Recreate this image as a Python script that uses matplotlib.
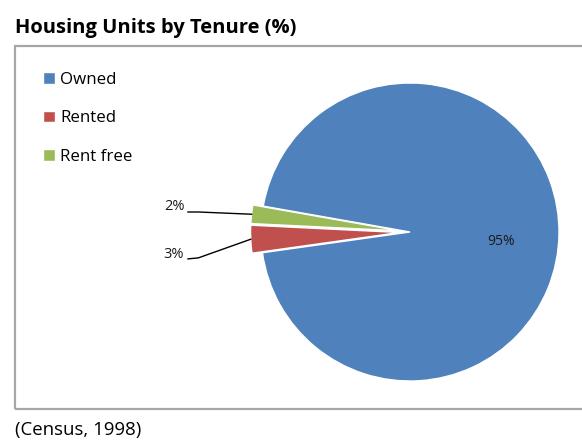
import matplotlib
matplotlib.use("Agg")
import numpy as np
import matplotlib.pyplot as plt
from matplotlib.patches import Rectangle

categories = ["Owned", "Rented", "Rent free"]
shares = [95, 3, 2]
colors = ["#4F81BD", "#C0504D", "#9BBB59"]
explode = [0, 0.07, 0.07]

plt.rcParams['font.family'] = ['Open Sans', 'DejaVu Sans']

W, H = 582, 442
fig = plt.figure(figsize=(W / 100, H / 100), dpi=100)

# pie centre at (410, 232) px, radius 149 px
cx, cy, r = 410, 232, 149
ax = fig.add_axes([0, 0, 1, 1])
wedges, _ = ax.pie(
    shares,
    colors=colors,
    explode=explode,
    startangle=170,
    counterclock=False,
    wedgeprops=dict(edgecolor="white", linewidth=1),
)
ax.set_xlim(-cx / r, (W - cx) / r)
ax.set_ylim(-(H - cy) / r, cy / r)
ax.set_aspect("auto")
ax.axis("off")

# percentage labels
for i, w in enumerate(wedges):
    mid = np.deg2rad((w.theta1 + w.theta2) / 2)
    x0, y0 = w.center
    lab = f"{shares[i]}%"
    if i == 0:
        ax.text(0.61 * np.cos(mid) + x0, 0.61 * np.sin(mid) - 0.05 + y0, lab,
                ha="center", va="center", fontsize=10, color="#1a1a1a")
        continue
    ax_ = x0 + np.cos(mid)
    ay_ = y0 + np.sin(mid)
    if i == 2:
        elbow = (-1.42, ay_ + 0.015)
        end = (-1.49, ay_ + 0.015)
        ty = ay_ + 0.055
    else:
        elbow = (-1.42, ay_ - 0.125)
        end = (-1.49, ay_ - 0.132)
        ty = ay_ - 0.10
    ax.plot([ax_, elbow[0], end[0]], [ay_, elbow[1], end[1]],
            color="black", linewidth=1)
    ax.text(-1.515, ty, lab, ha="right", va="center", fontsize=10.5,
            color="#1a1a1a")

# chart border
fig.patches.append(Rectangle((15 / W, 1 - 409 / H), (W + 10) / W, (409 - 46) / H,
                             transform=fig.transFigure, fill=False,
                             edgecolor="#A6A6A6", linewidth=1.6))

# legend
ax.legend(wedges, categories, loc="upper left",
          bbox_to_anchor=(43 / W, 1 - 72 / H), bbox_transform=fig.transFigure,
          frameon=False, fontsize=12.2, handlelength=0.68, handleheight=0.68,
          handletextpad=0.33, labelspacing=1.32, borderaxespad=0,
          borderpad=0)

fig.text(15 / W, 1 - 28 / H, "Housing Units by Tenure (%)", fontsize=14.5,
         fontweight="bold", ha="left", va="center")
fig.text(15 / W, 1 - 430 / H, "(Census, 1998)", fontsize=13.4,
         ha="left", va="center")

fig.savefig("out.png", dpi=100)
